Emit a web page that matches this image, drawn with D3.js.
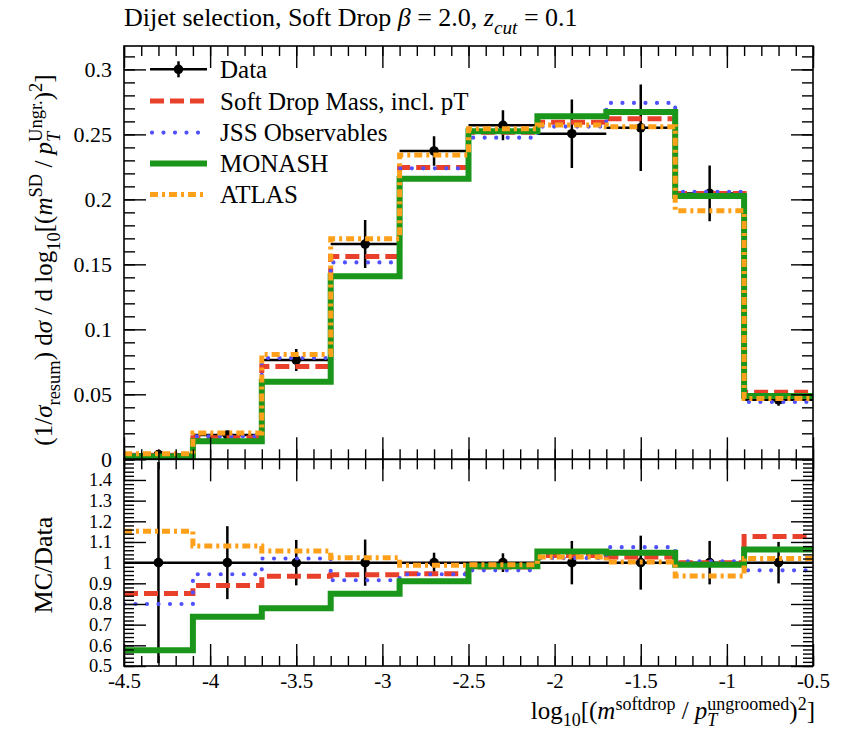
<!DOCTYPE html>
<html>
<head>
<meta charset="utf-8">
<script src="https://cdn.jsdelivr.net/npm/d3@7/dist/d3.min.js"></script>
<style>
  html, body { margin: 0; padding: 0; background: #fff; }
  svg { display: block; }
  text { font-family: "Liberation Serif", "DejaVu Serif", serif; fill: #000; }
</style>
</head>
<body>
<svg id="chart" width="844" height="731"></svg>
<script>
// Bin edges of log10[(m_SD / pT_ungroomed)^2]
const binEdges = [-4.5, -4.1, -3.7, -3.3, -2.9, -2.5, -2.1, -1.7, -1.3, -0.9, -0.5];

// Measured distribution and its uncertainty
const dataVals = [0.0037, 0.0187, 0.0764, 0.1656, 0.2372, 0.2570, 0.2505, 0.2551, 0.2046, 0.0458];
const dataErr  = [0.0018, 0.0033, 0.0084, 0.0185, 0.0114, 0.0116, 0.0263, 0.0333, 0.0215, 0.0046];

// Generator predictions for each tune
const softDropMass = [0.00315, 0.01664, 0.07136, 0.1560, 0.2246, 0.2516, 0.2593, 0.2620, 0.2046, 0.0516];
const jssObs       = [0.00296, 0.01765, 0.07793, 0.1515, 0.2239, 0.2475, 0.2560, 0.2742, 0.2058, 0.0441];
const monash       = [0.00213, 0.0138, 0.05959, 0.14076, 0.21585, 0.2524, 0.2640, 0.2673, 0.2026, 0.0487];
const atlas        = [0.00426, 0.0202, 0.0807, 0.1696, 0.2341, 0.2544, 0.2573, 0.2559, 0.1913, 0.0467];

const seriesNames = ["Soft Drop Mass, incl. pT", "JSS Observables", "MONASH", "ATLAS"];

// Axis ticks
const xMajorTicks = [-4.5, -4, -3.5, -3, -2.5, -2, -1.5, -1, -0.5];
const xTickLabels = ["-4.5", "-4", "-3.5", "-3", "-2.5", "-2", "-1.5", "-1", "-0.5"];
const mainYTicks = [0, 0.05, 0.1, 0.15, 0.2, 0.25, 0.3];
const mainYLabels = ["0", "0.05", "0.1", "0.15", "0.2", "0.25", "0.3"];
const ratioYTicks = [0.5, 0.6, 0.7, 0.8, 0.9, 1.0, 1.1, 1.2, 1.3, 1.4];
const ratioYLabels = ["0.5", "0.6", "0.7", "0.8", "0.9", "1", "1.1", "1.2", "1.3", "1.4"];

const styles = [
  { color: "#e8402a", width: 5,   dash: "14 6",     cap: "butt"  },
  { color: "#5050ff", width: 4.2, dash: "0 11.5",   cap: "round" },
  { color: "#1a961a", width: 6,   dash: null,       cap: "butt"  },
  { color: "#ffa01a", width: 5,   dash: "8 4 3 4",  cap: "butt"  }
];
const mcSeries = [softDropMass, jssObs, monash, atlas];

// Layout
const L = 124, R = 813, mainTop = 46, mainBot = 459.3, ratioBot = 666;

const svg = d3.select("#chart");

const x = d3.scaleLinear().domain([-4.5, -0.5]).range([L, R]);
const yMain = d3.scaleLinear().domain([0, 0.318]).range([mainBot, mainTop]);
const yRatio = d3.scaleLinear().domain([0.5, 1.5]).range([ratioBot, mainBot]);

const defs = svg.append("defs");
defs.append("clipPath").attr("id", "clipMain").append("rect")
  .attr("x", L).attr("y", mainTop).attr("width", R - L).attr("height", mainBot - mainTop);
defs.append("clipPath").attr("id", "clipRatio").append("rect")
  .attr("x", L).attr("y", mainBot).attr("width", R - L).attr("height", ratioBot - mainBot);

// Rich text helper: plain/italic runs with sub- and superscripts
function rich(textSel, parts, fs, scriptScale = 0.74, supShift = 0.42, subShift = 0.3) {
  let cur = 0;
  let lastNode = null;
  parts.forEach(p => {
    if (typeof p === "string") p = { t: p };
    const small = p.pos === "sup" || p.pos === "sub";
    const target = p.pos === "sup" ? -supShift * fs : p.pos === "sub" ? subShift * fs : 0;
    const ts = textSel.append("tspan")
      .text(p.t)
      .attr("font-size", small ? fs * scriptScale : fs)
      .attr("font-style", p.it ? "italic" : "normal")
      .attr("dy", target - cur);
    if (p.back && lastNode) ts.attr("dx", -lastNode.getComputedTextLength());
    cur = target;
    lastNode = ts.node();
  });
  return textSel;
}

// Step path through bin edges
const stepLine = (yScale) => d3.line()
  .x(d => x(d[0]))
  .y(d => yScale(d[1]))
  .curve(d3.curveStepAfter);
const stepPoints = vals => binEdges.map((e, i) => [e, vals[Math.min(i, vals.length - 1)]]);

const centers = binEdges.slice(0, -1).map((e, i) => (e + binEdges[i + 1]) / 2);

// ---------- Main panel ----------
const gMain = svg.append("g").attr("clip-path", "url(#clipMain)");

// data: horizontal bin extent, error bars, markers
dataVals.forEach((v, i) => {
  gMain.append("line")
    .attr("x1", x(binEdges[i])).attr("x2", x(binEdges[i + 1]))
    .attr("y1", yMain(v)).attr("y2", yMain(v))
    .attr("stroke", "#000").attr("stroke-width", 2.5);
  gMain.append("line")
    .attr("x1", x(centers[i])).attr("x2", x(centers[i]))
    .attr("y1", yMain(v - dataErr[i])).attr("y2", yMain(v + dataErr[i]))
    .attr("stroke", "#000").attr("stroke-width", 2.5);
  gMain.append("circle")
    .attr("cx", x(centers[i])).attr("cy", yMain(v)).attr("r", 4.8).attr("fill", "#000");
});

mcSeries.forEach((vals, k) => {
  const s = styles[k];
  gMain.append("path")
    .attr("d", stepLine(yMain)(stepPoints(vals)))
    .attr("fill", "none")
    .attr("stroke", s.color)
    .attr("stroke-width", s.width)
    .attr("stroke-dasharray", s.dash)
    .attr("stroke-linecap", s.cap);
});

// ---------- Ratio panel ----------
const gRatio = svg.append("g").attr("clip-path", "url(#clipRatio)");

gRatio.append("line")
  .attr("x1", x(-4.5)).attr("x2", x(-0.5))
  .attr("y1", yRatio(1)).attr("y2", yRatio(1))
  .attr("stroke", "#000").attr("stroke-width", 2.5);

dataVals.forEach((v, i) => {
  const rel = dataErr[i] / v;
  gRatio.append("line")
    .attr("x1", x(centers[i])).attr("x2", x(centers[i]))
    .attr("y1", yRatio(1 - rel)).attr("y2", yRatio(1 + rel))
    .attr("stroke", "#000").attr("stroke-width", 2.5);
  gRatio.append("circle")
    .attr("cx", x(centers[i])).attr("cy", yRatio(1)).attr("r", 4.8).attr("fill", "#000");
});

mcSeries.forEach((vals, k) => {
  const s = styles[k];
  const ratio = vals.map((v, i) => v / dataVals[i]);
  gRatio.append("path")
    .attr("d", stepLine(yRatio)(stepPoints(ratio)))
    .attr("fill", "none")
    .attr("stroke", s.color)
    .attr("stroke-width", s.width)
    .attr("stroke-dasharray", s.dash)
    .attr("stroke-linecap", s.cap);
});

// ---------- Axes (ticks inside the frame) ----------
const xMinor = d3.range(-4.5, -0.49, 0.1).map(v => Math.round(v * 10) / 10);
const mainMinor = d3.range(0, 0.3101, 0.01).map(v => Math.round(v * 100) / 100);
const ratioMinor = d3.range(0.5, 1.501, 0.02).map(v => Math.round(v * 100) / 100);

function styleAxis(g, fs) {
  g.select(".domain").remove();
  g.selectAll(".tick line").attr("stroke", "#000").attr("stroke-width", 1.4);
  g.selectAll("text").attr("font-size", fs).attr("font-family", "Liberation Serif, serif");
}

function addXTicks(yPos, dir, labels) {
  // dir: +1 ticks point downward (top edge), -1 ticks point upward (bottom edge)
  const mk = dir > 0 ? d3.axisTop : d3.axisBottom;
  const gMin = svg.append("g").attr("transform", `translate(0,${yPos})`)
    .call(mk(x).tickValues(xMinor).tickSize(-10).tickFormat(""));
  styleAxis(gMin, 21);
  const gMaj = svg.append("g").attr("transform", `translate(0,${yPos})`)
    .call(mk(x).tickValues(xMajorTicks).tickSize(-22).tickPadding(7)
      .tickFormat((d, i) => labels ? xTickLabels[i] : ""));
  styleAxis(gMaj, 21);
}

function addYTicks(scale, minor, major, majorLabels, minorLen, fs) {
  const gl = svg.append("g").attr("transform", `translate(${L},0)`)
    .call(d3.axisLeft(scale).tickValues(minor).tickSize(-minorLen).tickFormat(""));
  styleAxis(gl, fs);
  const gL = svg.append("g").attr("transform", `translate(${L},0)`)
    .call(d3.axisLeft(scale).tickValues(major).tickSize(-22).tickPadding(12)
      .tickFormat((d, i) => majorLabels[i]));
  styleAxis(gL, fs);
  const gr = svg.append("g").attr("transform", `translate(${R},0)`)
    .call(d3.axisRight(scale).tickValues(minor).tickSize(-minorLen).tickFormat(""));
  styleAxis(gr, fs);
  const gR = svg.append("g").attr("transform", `translate(${R},0)`)
    .call(d3.axisRight(scale).tickValues(major).tickSize(-22).tickFormat(""));
  styleAxis(gR, fs);
}

addXTicks(mainTop, +1, false);
addXTicks(mainBot, -1, false);
addXTicks(mainBot, +1, false);
addXTicks(ratioBot, -1, true);

addYTicks(yMain, mainMinor, mainYTicks, mainYLabels, 11, 22);
addYTicks(yRatio, ratioMinor, ratioYTicks, ratioYLabels, 10, 18.5);

// Frames
svg.append("rect").attr("x", L).attr("y", mainTop).attr("width", R - L).attr("height", mainBot - mainTop)
  .attr("fill", "none").attr("stroke", "#000").attr("stroke-width", 1.6);
svg.append("rect").attr("x", L).attr("y", mainBot).attr("width", R - L).attr("height", ratioBot - mainBot)
  .attr("fill", "none").attr("stroke", "#000").attr("stroke-width", 1.6);

// ---------- Legend ----------
const legX0 = 150, legX1 = 207, legTextX = 220;
const legY = [69.3, 101, 132.6, 163.6, 194.5];
const LEG_FS = 25;
const gLeg = svg.append("g");

gLeg.append("line").attr("x1", legX0).attr("x2", legX1).attr("y1", legY[0]).attr("y2", legY[0])
  .attr("stroke", "#000").attr("stroke-width", 2.5);
gLeg.append("line").attr("x1", (legX0 + legX1) / 2).attr("x2", (legX0 + legX1) / 2)
  .attr("y1", legY[0] - 8).attr("y2", legY[0] + 8).attr("stroke", "#000").attr("stroke-width", 2.5);
gLeg.append("circle").attr("cx", (legX0 + legX1) / 2).attr("cy", legY[0]).attr("r", 4.8).attr("fill", "#000");
gLeg.append("text").attr("x", legTextX).attr("y", legY[0] + 8.5).attr("font-size", LEG_FS).text("Data");

seriesNames.forEach((name, k) => {
  const s = styles[k];
  const yy = legY[k + 1];
  gLeg.append("line").attr("x1", legX0 + (s.cap === "round" ? 2 : 0)).attr("x2", legX1)
    .attr("y1", yy).attr("y2", yy)
    .attr("stroke", s.color).attr("stroke-width", s.width)
    .attr("stroke-dasharray", s.dash).attr("stroke-linecap", s.cap);
  gLeg.append("text").attr("x", legTextX).attr("y", yy + 8.5).attr("font-size", LEG_FS).text(name);
});

// ---------- Titles and axis labels ----------
rich(svg.append("text").attr("x", L).attr("y", 26),
  ["Dijet selection, Soft Drop ", { t: "β", it: true }, " = 2.0, ", { t: "z", it: true },
   { t: "cut", it: true, pos: "sub" }, " = 0.1"], 26);

rich(svg.append("text").attr("x", 815).attr("y", 719).attr("text-anchor", "end"),
  ["log", { t: "10", pos: "sub" }, "[(", { t: "m", it: true }, { t: "softdrop", pos: "sup" },
   " / ", { t: "p", it: true }, { t: "T", it: true, pos: "sub" },
   { t: "ungroomed", pos: "sup", back: true }, ")", { t: "2", pos: "sup" }, "]"], 25, 0.72, 0.36, 0.26);

rich(svg.append("text").attr("transform", "translate(52,260) rotate(-90)").attr("text-anchor", "middle"),
  ["(1/", { t: "σ", it: true }, { t: "resum", pos: "sub" }, ") d", { t: "σ", it: true },
   " / d log", { t: "10", pos: "sub" }, "[(", { t: "m", it: true }, { t: "SD", pos: "sup" },
   " / ", { t: "p", it: true }, { t: "T", it: true, pos: "sub" },
   { t: "Ungr.", pos: "sup", back: true }, ")", { t: "2", pos: "sup" }, "]"], 25, 0.74);

rich(svg.append("text").attr("transform", "translate(52,565) rotate(-90)").attr("text-anchor", "middle"),
  ["MC/Data"], 26);
</script>
</body>
</html>
